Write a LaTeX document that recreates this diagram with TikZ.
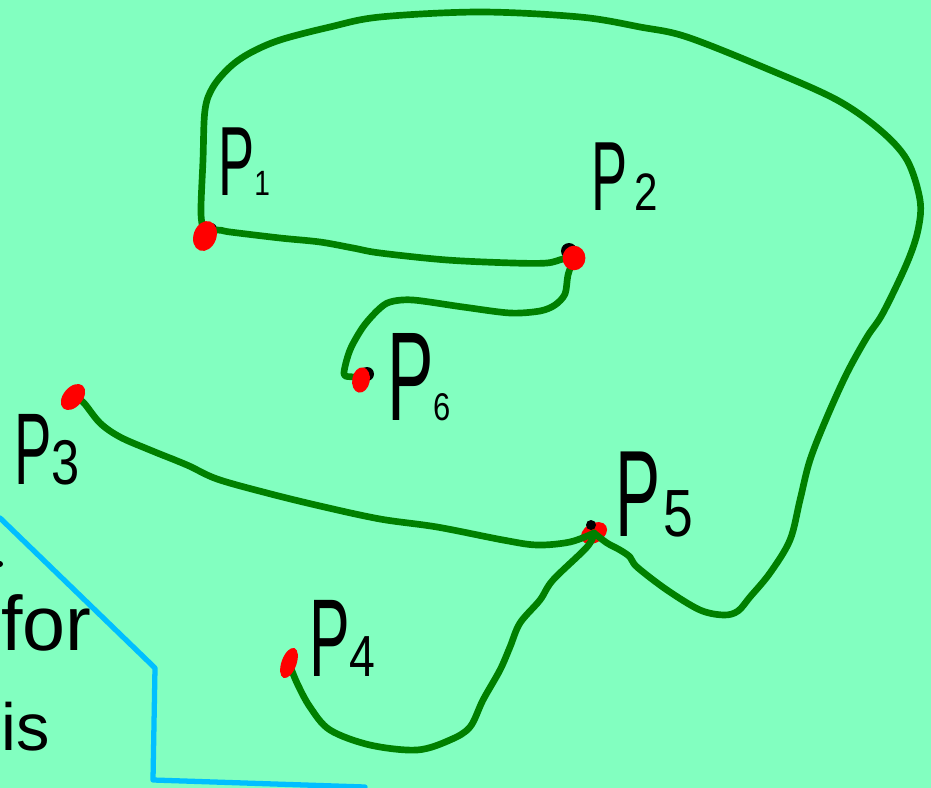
\documentclass[tikz,border=0pt]{standalone}
\usepackage{fontspec}
\setmainfont{Liberation Sans}
\usepackage{graphicx}
\usetikzlibrary{shapes.geometric}
\pgfdeclarelayer{bglayer}
\pgfdeclarelayer{under}
\pgfdeclarelayer{curves}
\pgfsetlayers{bglayer,under,curves,main}
\definecolor{mint}{RGB}{130,255,192}
\definecolor{stroke}{RGB}{0,128,0}
\definecolor{dotred}{RGB}{255,0,0}
\definecolor{skyline}{RGB}{0,191,255}
\newcommand\PLab[4]{\scalebox{0.55}[1]{\fontsize{#1}{#1}\selectfont P}\hspace{#4}\scalebox{0.8}[1]{\fontsize{#2}{#2}\selectfont #3}}
\tikzset{
  gline/.style={draw=stroke, line width=3.8pt, line cap=round, line join=round},
  bline/.style={draw=skyline, line width=3pt, line cap=round, line join=round},
  pdot/.style={ellipse, fill=dotred, inner sep=0pt},
  lbl/.style={inner sep=0pt, anchor=base west, text=black},
  handtext/.style={inner sep=0pt, anchor=base west, text=black}
}
\begin{document}
\begin{tikzpicture}[x=0.02cm, y=-0.02cm]
\useasboundingbox (0,0) rectangle (931,788);
\begin{pgfonlayer}{bglayer}
  \fill[mint] (0,0) rectangle (931,788);
\end{pgfonlayer}

% points
\node[pdot, minimum width=13pt, minimum height=17.5pt, rotate=-20] (p1) at (205,236) {};
\node[pdot, minimum width=13pt, minimum height=14pt] (p2) at (574,258) {};
\node[pdot, minimum width=10pt, minimum height=14.5pt, rotate=-10] (p6) at (361,380) {};
\node[pdot, minimum width=11pt, minimum height=17pt, rotate=-40] (p3) at (73,397) {};
\node[pdot, minimum width=8.5pt, minimum height=18pt, rotate=-20] (p4) at (289,663) {};
\begin{pgfonlayer}{under}
  \node[pdot, minimum width=16pt, minimum height=11pt, rotate=30] (p5) at (594,533) {};
  \fill[black] (211,229) circle (6);
  \fill[black] (569,251) circle (8);
  \fill[black] (367,374) circle (7);
  \fill[black] (591,525) circle (5);
\end{pgfonlayer}

% connectors
\begin{pgfonlayer}{curves}
\draw[gline] plot[smooth, tension=0.55] coordinates {(p1.center) (201,214) (203,160) (205,110) (213,87) (230,67) (250,53) (280,40) (330,27) (380,17) (480,12) (580,17) (640,27) (687,37) (770,70) (837,100) (880,130) (907,160) (920,200) (918,230) (907,263) (883,313) (867,337) (847,373) (827,417) (810,460) (800,500) (790,540) (770,573) (750,597) (738,611) (724,615) (700,610) (667,590) (637,567) (630,557) (620,550) (607,543) (p5.center)};
\draw[gline] plot[smooth, tension=0.55] coordinates {(p1.center) (217,230) (230,232) (280,238) (320,242) (353,248) (380,253) (447,260) (513,263) (547,263) (563,259) (p2.center)};
\draw[gline] plot[smooth, tension=0.5] coordinates {(p2.center) (568,275) (565,294) (555,305) (540,311) (510,313) (463,307) (413,300) (390,302) (378,310) (363,327) (350,350) (344,374) (353,377) (p6.center)};
\draw[gline] plot[smooth, tension=0.55] coordinates {(p3.center) (83,402) (100,423) (120,437) (150,450) (187,465) (217,479) (267,493) (320,506) (380,519) (437,527) (503,540) (537,545) (570,542) (p5.center)};
\draw[gline] plot[smooth, tension=0.55] coordinates {(p5.center) (587,547) (553,580) (540,600) (520,623) (510,647) (500,670) (483,700) (470,727) (450,740) (417,750) (370,745) (330,730) (310,707) (297,683) (p4.center)};
\end{pgfonlayer}

% blue outline
\draw[bline] (0,518) -- (155,668) -- (153,780) -- (365,787);

% labels
\node[lbl] (t1) at (218,195) {\PLab{56pt}{20pt}{1}{0pt}};
\node[lbl] (t2) at (591,210) {\PLab{56pt}{30pt}{2}{4pt}};
\node[lbl] (t6) at (387,420) {\PLab{72pt}{22pt}{6}{0pt}};
\node[lbl] (t3) at (14,484) {\PLab{58pt}{36pt}{3}{0pt}};
\node[lbl] (t5) at (615,536) {\PLab{70pt}{38pt}{5}{2pt}};
\node[lbl] (t4) at (309,676) {\PLab{63pt}{33pt}{4}{0pt}};

% partial text at left edge
\fill[black] (0,564) circle (3);
\node[handtext] (tfor) at (1,650) {\fontsize{44pt}{44pt}\selectfont for};
\node[handtext] (tis) at (1,750) {\fontsize{38pt}{38pt}\selectfont is};
\end{tikzpicture}
\end{document}
